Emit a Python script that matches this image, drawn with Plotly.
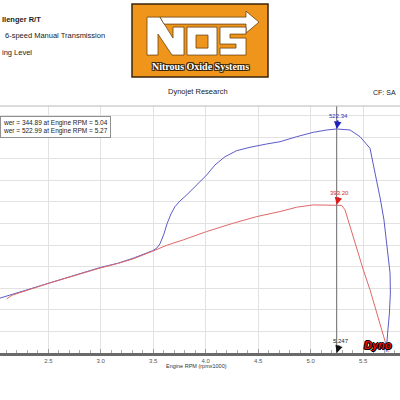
import plotly.graph_objects as go

# Engine RPM (x1000) and power readings
blue_rpm = [2.040, 2.500, 2.802, 2.993, 3.167, 3.310, 3.491, 3.533, 3.564, 3.602,
            3.631, 3.669, 3.707, 3.755, 3.819, 3.898, 4.009, 4.088, 4.184, 4.295,
            4.422, 4.581, 4.708, 4.867, 5.025, 5.153, 5.247, 5.375, 5.470, 5.565,
            5.629, 5.665, 5.698, 5.722, 5.741, 5.756, 5.759, 5.750, 5.733, 5.719]
blue_hp = [234.5, 260.0, 277.0, 286.5, 294.0, 302.5, 314.9, 319.5, 326.8, 343.8,
           360.8, 377.8, 390.2, 399.9, 410.1, 424.2, 444.1, 461.1, 475.2, 485.4,
           491.2, 496.8, 500.7, 509.2, 516.7, 520.6, 522.34, 520.6, 509.2, 489.5,
           435.6, 401.6, 367.6, 333.6, 303.0, 277.0, 243.0, 209.0, 175.0, 143.0]

red_rpm = [2.104, 2.154, 2.500, 2.802, 2.993, 3.167, 3.310, 3.491, 3.628, 3.786,
           4.009, 4.263, 4.486, 4.708, 4.867, 5.025, 5.247, 5.295, 5.327, 5.375,
           5.438, 5.501, 5.565, 5.629, 5.676, 5.724, 5.739]
red_hp = [233.3, 239.3, 259.5, 276.2, 285.6, 293.7, 301.3, 314.1, 324.3, 333.6,
          347.8, 362.0, 373.2, 381.8, 389.2, 393.1, 393.2, 392.3, 384.6, 356.2,
          316.6, 282.6, 248.6, 209.0, 180.6, 152.2, 142.4]

cursor_rpm = 5.247
blue_peak = 522.34
red_peak = 393.20
summary_lines = ["wer = 344.89 at Engine RPM = 5.04",
                 "wer = 522.99 at Engine RPM = 5.27"]
header_lines = ["llenger R/T", "6-speed Manual Transmission", "ing Level"]

# page geometry (pixels)
PLOT_TOP, PLOT_BOT = 106, 353.3


def P(x, y):
    """pixel -> paper coords"""
    return x / 400, (PLOT_BOT - y) / (PLOT_BOT - PLOT_TOP)


def poly(points):
    parts = []
    for i, (x, y) in enumerate(points):
        px, py = P(x, y)
        parts.append(("M" if i == 0 else "L") + f"{px:.4f},{py:.4f}")
    return " ".join(parts) + " Z"


fig = go.Figure()

fig.add_trace(go.Scatter(x=blue_rpm, y=blue_hp, mode="lines",
                         line=dict(color="#5b5bc8", width=1), hoverinfo="skip"))
fig.add_trace(go.Scatter(x=red_rpm, y=red_hp, mode="lines",
                         line=dict(color="#e06868", width=1), hoverinfo="skip"))

shapes = []
# cursor
shapes.append(dict(type="line", xref="x", yref="paper", x0=cursor_rpm, x1=cursor_rpm,
                   y0=0, y1=1, line=dict(color="#808080", width=1.2)))
# top border
shapes.append(dict(type="line", xref="paper", yref="paper", x0=0, x1=1, y0=1, y1=1,
                   line=dict(color="#b8b8b8", width=1)))

# NOS logo
ORANGE = "#f0951c"
DARK = "#3a2408"
x0, y0 = P(132, 4)
x1, y1 = P(268, 77)
shapes.append(dict(type="rect", xref="paper", yref="paper", x0=x0, x1=x1, y0=y1, y1=y0,
                   fillcolor=ORANGE, line=dict(color=DARK, width=1.5)))
letter = dict(type="path", xref="paper", yref="paper", fillcolor="white",
              line=dict(color="#6b4410", width=0.8))
shapes.append(dict(letter, path=poly([(147, 55), (147, 17), (160, 17), (173, 38), (173, 27),
                                      (184, 27), (184, 55), (172, 55), (158, 34), (158, 55)])))
shapes.append(dict(letter, path=poly([(160, 17), (246, 17), (246, 11), (259, 22), (246, 33),
                                      (246, 24), (164, 24)])))
shapes.append(dict(letter, path=poly([(187, 27), (217, 27), (217, 55), (187, 55)])))
shapes.append(dict(letter, fillcolor=ORANGE,
                   path=poly([(196, 35), (208, 35), (208, 48), (196, 48)])))
shapes.append(dict(letter, path=poly([(220, 27), (246, 27), (246, 34), (230, 34), (230, 38),
                                      (246, 38), (246, 55), (220, 55), (220, 48), (236, 48),
                                      (236, 44), (220, 44)])))
fig.update_layout(shapes=shapes)

ann = []


def text_at(x, y, text, size=7.5, color="#222", anchor="left", **kw):
    px, py = P(x, y)
    ann.append(dict(xref="paper", yref="paper", x=px, y=py, text=text, showarrow=False,
                    xanchor=anchor, yanchor="middle",
                    font=dict(family="Liberation Sans, Arial", size=size, color=color), **kw))


text_at(0, 19, f"<b>{header_lines[0]}</b>")
text_at(3, 35.5, header_lines[1])
text_at(0, 52, header_lines[2])
text_at(198, 91, "Dynojet Research", anchor="center")
text_at(398, 92, "CF: SA", size=7, anchor="right")
text_at(196, 366, "Engine RPM (rpmx1000)", size=5.5, color="#333", anchor="center")

outline = ", ".join(f"{dx}px {dy}px 0 {DARK}" for dx, dy in
                    [(1, 0), (-1, 0), (0, 1), (0, -1), (1, 1), (-1, -1), (1, -1), (-1, 1)])
px, py = P(200, 66.5)
ann.append(dict(xref="paper", yref="paper", x=px, y=py, text="<b>Nitrous Oxide Systems</b>",
                showarrow=False, xanchor="center", yanchor="middle",
                font=dict(family="Liberation Serif", size=10, color="white", shadow=outline)))

red_outline = ", ".join(f"{dx}px {dy}px 0 black" for dx, dy in
                        [(1, 0), (-1, 0), (0, 1), (0, -1), (1, 1)])
px, py = P(362, 345.5)
ann.append(dict(xref="paper", yref="paper", x=px, y=py, text="<b><i>Dyno</i></b>",
                showarrow=False, xanchor="left", yanchor="middle",
                font=dict(family="Liberation Sans", size=11, color="#e01010", shadow=red_outline)))

# summary box
px, py = P(0, 127.5)
ann.append(dict(xref="paper", yref="paper", x=px, y=py, text="<br>".join(summary_lines),
                showarrow=False, xanchor="left", yanchor="middle", align="left",
                bgcolor="white", bordercolor="#909090", borderwidth=1, borderpad=2,
                font=dict(family="Liberation Sans, Arial", size=6.5, color="#222")))

# cursor readouts
ann.append(dict(x=cursor_rpm, y=blue_peak, text=f"{blue_peak:.2f}", showarrow=True,
                arrowhead=2, arrowsize=1, arrowwidth=1.5, arrowcolor="#2020c0", ax=2, ay=-13,
                font=dict(family="Liberation Sans", size=6, color="#3030b0")))
ann.append(dict(x=cursor_rpm, y=red_peak, text=f"{red_peak:.2f}", showarrow=True,
                arrowhead=2, arrowsize=1, arrowwidth=1.5, arrowcolor="#e01818", ax=3, ay=-12,
                font=dict(family="Liberation Sans", size=6, color="#d03030")))
ann.append(dict(x=cursor_rpm, y=141.03, text=f"{cursor_rpm:.3f}", showarrow=True,
                arrowhead=2, arrowsize=1, arrowwidth=1.5, arrowcolor="#111", ax=4, ay=-12,
                font=dict(family="Liberation Sans", size=6, color="#222")))

fig.update_layout(
    annotations=ann,
    width=400, height=400,
    margin=dict(l=0, r=0, t=106, b=46.7),
    paper_bgcolor="white", plot_bgcolor="white",
    showlegend=False,
    xaxis=dict(range=[2.0398, 5.8508], tick0=2.5, dtick=0.5, tickformat=".1f",
               showgrid=True, gridcolor="#e2e2e2", gridwidth=1, zeroline=False,
               showline=True, linecolor="#6a6a6a", linewidth=3,
               ticks="inside", ticklen=4, tickcolor="#999",
               minor=dict(dtick=0.1, ticks="inside", ticklen=3, tickcolor="#aaa", showgrid=False),
               tickfont=dict(family="Liberation Sans", size=6, color="#555")),
    yaxis=dict(range=[141.03, 561.44], tick0=141.03, dtick=36.72, showticklabels=False,
               showgrid=True, gridcolor="#e2e2e2", gridwidth=1, zeroline=False, ticks=""),
)

# page body has a default 8px margin; drop it so the chart sits at the top-left corner
fig.write_html("out.html", config={"displayModeBar": False},
               post_script="document.body.style.margin = '0';")
